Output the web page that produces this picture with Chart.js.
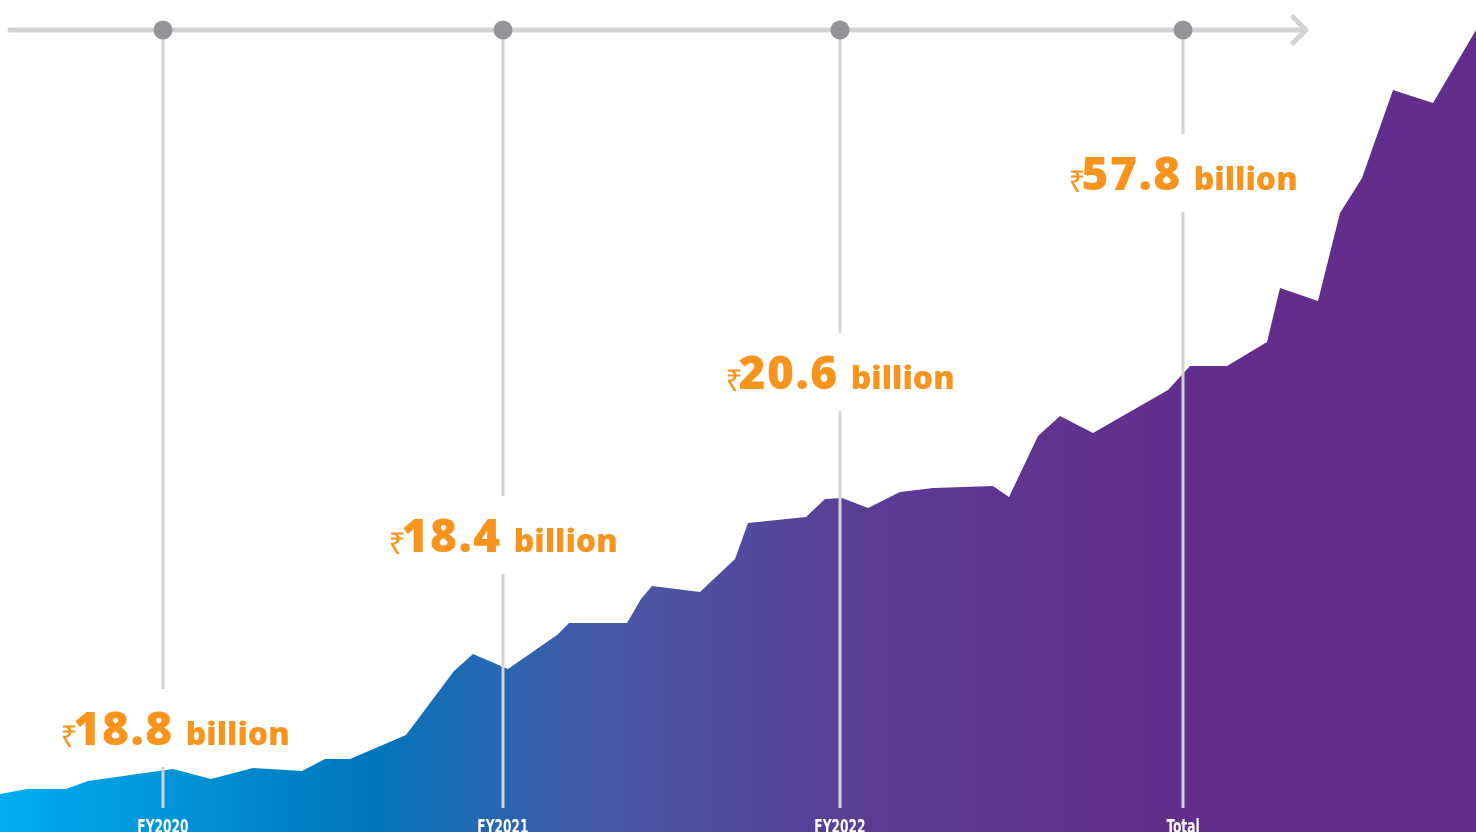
<!DOCTYPE html>
<html>
<head>
<meta charset="utf-8">
<script src="https://cdn.jsdelivr.net/npm/chart.js@4.4.1/dist/chart.umd.min.js"></script>
<style>
  html, body { margin: 0; padding: 0; background: #ffffff; overflow: hidden; }
  #chart { display: block; }
</style>
</head>
<body>
<canvas id="chart" width="1476" height="832"></canvas>
<script>
// Revenue curve (x = timeline position, y = level)
const timeline = [0, 27, 66, 88, 173, 211, 253, 302, 325, 350,
  406, 454, 473, 508, 557, 569, 627, 641, 652, 700,
  735, 748, 806, 825, 842, 868, 900, 933, 993, 1009,
  1038, 1060, 1093, 1168, 1190, 1227, 1267, 1280, 1318, 1340,
  1362, 1393, 1433, 1476];
const levels = [38, 43, 43, 51, 63, 53, 64, 61, 73, 73,
  97, 161, 178, 163, 197, 209, 209, 233, 246, 240,
  273, 309, 315, 333, 334, 324, 340, 344, 346, 335,
  396, 416, 399, 442, 466, 466, 490, 544, 531, 619,
  654, 742, 729, 802];

// Milestones
const periods = ["FY2020", "FY2021", "FY2022", "Total"];
const amounts = ["18.8", "18.4", "20.6", "57.8"];
const markerX = [163, 503, 840, 1183];
const labelX = [175, 503, 840, 1183];
const labelLevel = [87, 280, 443, 642];

const ORANGE = "#F7941D";
const GREY_LINE = "#D1D3D4";
const GREY_DOT = "#939598";

// gradient horizontal du bleu au violet
function areaGradient(context) {
  const chart = context.chart;
  const area = chart.chartArea;
  if (!area) return "#632D8B";
  const g = chart.ctx.createLinearGradient(area.left, 0, area.right, 0);
  g.addColorStop(0, "#00AEEF");
  g.addColorStop(0.25, "#0076BD");
  g.addColorStop(0.4, "#455AA7");
  g.addColorStop(0.6, "#5C3B94");
  g.addColorStop(0.8, "#622E8B");
  g.addColorStop(1, "#632D8B");
  return g;
}

const overlay = {
  id: "overlay",
  afterDatasetsDraw(chart) {
    const ctx = chart.ctx;
    const xs = chart.scales.x;
    const ys = chart.scales.y;
    const topY = ys.getPixelForValue(802);
    const bottomY = ys.getPixelForValue(24);

    ctx.save();
    // top arrow
    ctx.strokeStyle = GREY_LINE;
    ctx.lineCap = "round";
    ctx.lineJoin = "round";
    ctx.lineWidth = 5;
    ctx.beginPath();
    ctx.moveTo(xs.getPixelForValue(10), topY);
    ctx.lineTo(xs.getPixelForValue(1305), topY);
    ctx.stroke();
    ctx.beginPath();
    ctx.moveTo(xs.getPixelForValue(1293), topY - 13);
    ctx.lineTo(xs.getPixelForValue(1306), topY);
    ctx.lineTo(xs.getPixelForValue(1293), topY + 13);
    ctx.stroke();

    // vertical lines, with a gap for the label
    ctx.lineCap = "butt";
    ctx.lineWidth = 3;
    markerX.forEach((mx, i) => {
      const px = xs.getPixelForValue(mx);
      const base = ys.getPixelForValue(labelLevel[i]);
      ctx.beginPath();
      ctx.moveTo(px, topY);
      ctx.lineTo(px, base - 56);
      ctx.moveTo(px, base + 22);
      ctx.lineTo(px, bottomY);
      ctx.stroke();
    });

    // dots
    ctx.fillStyle = GREY_DOT;
    markerX.forEach(mx => {
      ctx.beginPath();
      ctx.arc(xs.getPixelForValue(mx), topY, 9.5, 0, Math.PI * 2);
      ctx.fill();
    });

    // amount labels
    ctx.fillStyle = ORANGE;
    ctx.textBaseline = "alphabetic";
    ctx.textAlign = "left";
    const fRupee = "400 30px 'Noto Sans', 'DejaVu Sans', sans-serif";
    const fNum = "800 46px 'Open Sans', 'Noto Sans', sans-serif";
    const fUnit = "800 32px 'Open Sans', 'Noto Sans', sans-serif";
    const numSpacing = "1.5px";
    amounts.forEach((amt, i) => {
      const cx = xs.getPixelForValue(labelX[i]);
      const base = ys.getPixelForValue(labelLevel[i]);
      ctx.letterSpacing = "0px";
      ctx.font = fRupee;
      const wR = ctx.measureText("₹").width;
      ctx.font = fNum;
      ctx.letterSpacing = numSpacing;
      const wN = ctx.measureText(amt).width;
      ctx.letterSpacing = "0px";
      ctx.font = fUnit;
      const wU = ctx.measureText("billion").width;
      const gap = 12;
      const total = wR - 4 + wN + gap + wU;
      let x = cx - total / 2;
      ctx.font = fRupee;
      ctx.fillText("₹", x, base + 2);
      x += wR - 4;
      ctx.font = fNum;
      ctx.letterSpacing = numSpacing;
      ctx.fillText(amt, x, base);
      x += wN + gap;
      ctx.letterSpacing = "0px";
      ctx.font = fUnit;
      ctx.fillText("billion", x, base);
    });

    // period labels at the bottom
    ctx.letterSpacing = "0px";
    ctx.fillStyle = "#ffffff";
    ctx.textAlign = "center";
    ctx.font = "700 20px 'Liberation Sans Narrow', 'DejaVu Sans Condensed', sans-serif";
    periods.forEach((p, i) => {
      ctx.save();
      ctx.translate(xs.getPixelForValue(markerX[i]), ys.getPixelForValue(-1));
      ctx.scale(0.68, 1);
      ctx.fillText(p, 0, 0);
      ctx.restore();
    });
    ctx.restore();
  }
};

new Chart(document.getElementById("chart").getContext("2d"), {
  type: "line",
  data: {
    datasets: [{
      data: timeline.map((t, i) => ({ x: t, y: levels[i] })),
      fill: "origin",
      backgroundColor: areaGradient,
      borderWidth: 0,
      pointRadius: 0,
      tension: 0
    }]
  },
  options: {
    responsive: false,
    animation: false,
    layout: { padding: 0 },
    scales: {
      x: { type: "linear", min: 0, max: 1476, display: false },
      y: { min: 0, max: 832, display: false }
    },
    plugins: {
      legend: { display: false },
      tooltip: { enabled: false }
    }
  },
  plugins: [overlay]
});
</script>
</body>
</html>
